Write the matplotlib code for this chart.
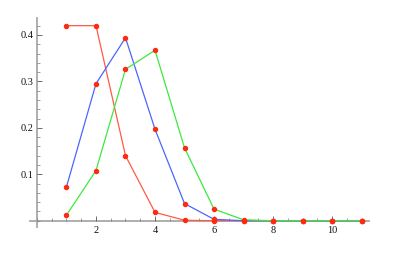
import matplotlib
matplotlib.use("Agg")
import matplotlib.pyplot as plt
from matplotlib.ticker import MultipleLocator, FixedLocator

x = [1, 2, 3, 4, 5, 6, 7, 8, 9, 10, 11]
red_vals = [0.420, 0.420, 0.140, 0.018, 0.001, 0.0, 0.0, 0.0, 0.0, 0.0, 0.0]
blue_vals = [0.073, 0.295, 0.394, 0.197, 0.037, 0.003, 0.0, 0.0, 0.0, 0.0, 0.0]
green_vals = [0.012, 0.108, 0.326, 0.367, 0.157, 0.025, 0.002, 0.0, 0.0, 0.0, 0.0]
x_ticks = [2, 4, 6, 8, 10]
y_ticks = [0.1, 0.2, 0.3, 0.4]

fig = plt.figure(figsize=(4.1, 2.67), dpi=100)
ax = fig.add_axes([0.0722, 0.1509, 0.8276, 0.7806])

series = [(red_vals, "#ff5a45"), (blue_vals, "#4a66ff"), (green_vals, "#3ee83e")]
for vals, col in series:
    ax.plot(x, vals, color=col, lw=0.9, zorder=2)
for vals, col in series:
    ax.plot(x, vals, ls="none", marker="o", ms=2.9, color="#ff2a10",
            mec="#ff2a10", zorder=3, clip_on=False)

ax.set_xlim(-0.25, 11.25)
ax.set_ylim(-0.0129, 0.4359)

for s in ["top", "right"]:
    ax.spines[s].set_visible(False)
ax.spines["left"].set_position(("data", 0))
ax.spines["bottom"].set_position(("data", 0))
for s in ["left", "bottom"]:
    ax.spines[s].set_color("#a8a8a8")
    ax.spines[s].set_linewidth(1.3)
    ax.spines[s].set_zorder(1)

ax.xaxis.set_major_locator(FixedLocator(x_ticks))
ax.xaxis.set_minor_locator(MultipleLocator(0.5))
ax.yaxis.set_major_locator(FixedLocator(y_ticks))
ax.yaxis.set_minor_locator(MultipleLocator(0.02))
ax.set_xticklabels([str(v) for v in x_ticks])
ax.set_yticklabels([f"{v:.1f}" for v in y_ticks])

ax.tick_params(axis="both", which="major", direction="in", length=3.5,
               width=0.6, color="#555555", labelsize=7.5, labelcolor="#111111")
ax.tick_params(axis="both", which="minor", direction="in", length=2,
               width=0.5, color="#777777")
ax.tick_params(axis="x", which="major", pad=4.0)
ax.tick_params(axis="y", which="major", pad=2.5)
for lab in ax.get_xticklabels() + ax.get_yticklabels():
    lab.set_fontfamily("Liberation Serif")

fig.savefig("out.png", dpi=100)
